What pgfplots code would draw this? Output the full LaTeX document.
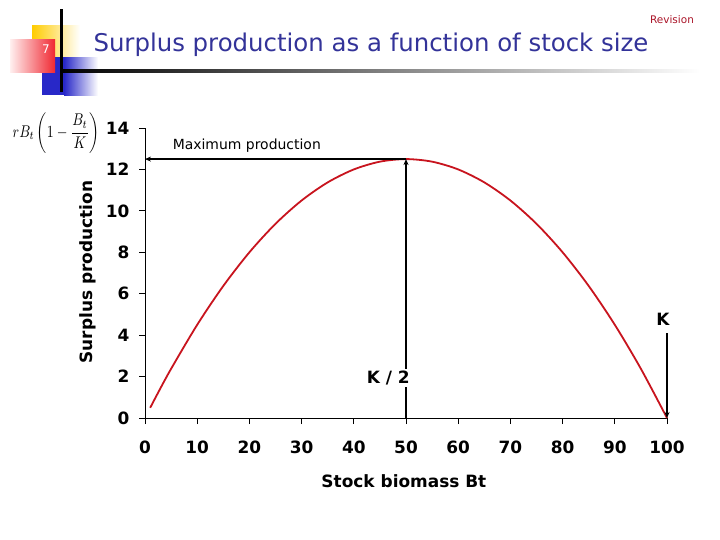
\documentclass[border=0pt]{standalone}
\usepackage{pgfplots}
\pgfplotsset{compat=1.18}
\usepackage{pgfplotstable}
\usepackage{graphicx}
\usepackage{fontspec}
\setmainfont{DejaVu Sans}
\usetikzlibrary{arrows.meta}

\definecolor{titleblue}{RGB}{51,51,153}
\definecolor{revred}{RGB}{170,20,40}
\definecolor{curvered}{RGB}{200,20,30}
\definecolor{decoyellow}{RGB}{255,204,0}
\definecolor{decored}{RGB}{240,40,50}
\definecolor{decoblue}{RGB}{40,40,200}

% surplus production, r = 0.5, K = 100
\pgfplotstableread{
B P
1 0.495
2.5 1.219
5 2.375
10 4.5
15 6.375
20 8
25 9.375
30 10.5
35 11.375
40 12
45 12.375
50 12.5
55 12.375
60 12
65 11.375
70 10.5
75 9.375
80 8
85 6.375
90 4.5
95 2.375
100 0
}\surplus

\begin{document}
\begin{tikzpicture}
\fill[white] (0,0) rectangle (720bp,-540bp);
\useasboundingbox (0,0) rectangle (720bp,-540bp);

% slide decoration
\shade[left color=decoyellow, middle color=decoyellow, right color=white] (32bp,-25bp) rectangle (80bp,-57bp);
\fill[decoblue] (42bp,-57bp) rectangle (64bp,-95bp);
\shade[left color=decoblue, right color=white] (64bp,-57bp) rectangle (98bp,-95bp);
\shade[left color=red!6, right color=decored] (10bp,-39bp) rectangle (55bp,-72bp);
\fill[black] (59.5bp,-9bp) rectangle (62.5bp,-92bp);
\shade[left color=black, middle color=black!55, right color=white] (61bp,-69.5bp) rectangle (700bp,-72.5bp);
\node[white, font=\fontsize{12}{14}\selectfont] at (46bp,-49bp) {7};

\node[titleblue, anchor=base west, font=\fontsize{24.5}{28}\selectfont] at (90bp,-51bp)
  {Surplus production as a function of stock size};
\node[revred, font=\fontsize{10.5}{12}\selectfont] at (672bp,-20bp) {Revision};
\node at (56bp,-133bp) {\scalebox{1.38}[1.7]{$rB_t\left(1-\displaystyle\frac{B_t}{K}\right)$}};

\begin{axis}[
  at={(145bp,-418bp)}, anchor=south west,
  scale only axis, width=522bp, height=290bp,
  xmin=0, xmax=100, ymin=0, ymax=14,
  axis lines*=left,
  axis line style={line width=0.8bp},
  xtick={0,10,...,100}, ytick={0,2,...,14},
  tick align=outside, major tick length=6bp,
  tick style={black, line width=0.8bp},
  ticklabel style={font=\bfseries\fontsize{17}{20}\selectfont},
  xticklabel style={yshift=-13bp},
  yticklabel style={xshift=-6bp},
  /pgf/number format/assume math mode=true,
  xlabel={Stock biomass Bt}, ylabel={Surplus production},
  label style={font=\bfseries\fontsize{17}{20}\selectfont},
  xlabel style={at={(axis description cs:0.496,-0.217)}, anchor=center},
  ylabel style={at={(axis description cs:-0.109,0.503)}, anchor=center},
  clip=false,
]
\addplot[curvered, line width=1.8bp, smooth] table {\surplus};

\draw[-{Stealth[length=6bp,width=5bp]}, line width=2bp] (axis cs:50,12.5) -- (axis cs:0,12.5);
\draw[-{Stealth[length=6bp,width=5bp]}, line width=2.2bp] (axis cs:50,0) -- (axis cs:50,12.5);
\node[fill=white, inner sep=2bp, font=\bfseries\fontsize{17}{20}\selectfont] at (axis cs:46.6,1.93) {K / 2};
\draw[-{Stealth[length=6bp,width=5bp]}, line width=2bp] (axis cs:100,4.1) -- (axis cs:100,0);
\node[font=\bfseries\fontsize{17}{20}\selectfont] at (axis cs:99.2,4.75) {K};
\node[font=\fontsize{14}{16}\selectfont] at (axis cs:19.5,13.15) {Maximum production};
\end{axis}
\end{tikzpicture}
\end{document}
